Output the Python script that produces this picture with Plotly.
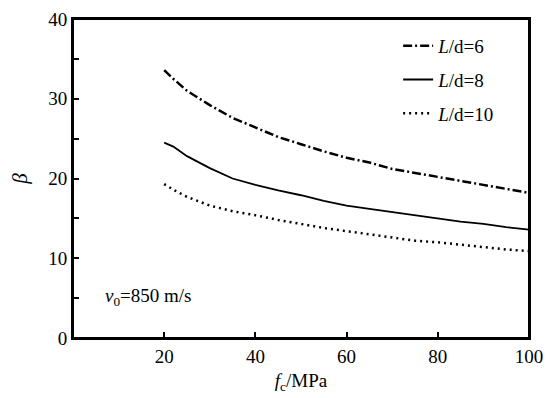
import plotly.graph_objects as go

fc = [20, 22, 25, 30, 35, 40, 45, 50, 55, 60, 65, 70, 75, 80, 85, 90, 95, 100]
beta_6 = [33.6, 32.5, 31.0, 29.2, 27.6, 26.4, 25.2, 24.3, 23.4, 22.6, 22.0, 21.2, 20.7, 20.2, 19.7, 19.2, 18.7, 18.2]
beta_8 = [24.5, 24.0, 22.8, 21.3, 20.0, 19.2, 18.5, 17.9, 17.2, 16.6, 16.2, 15.8, 15.4, 15.0, 14.6, 14.3, 13.9, 13.6]
beta_10 = [19.3, 18.6, 17.7, 16.6, 15.9, 15.4, 14.8, 14.3, 13.8, 13.4, 13.0, 12.6, 12.2, 12.0, 11.7, 11.4, 11.1, 10.9]

labels = ["<i>L</i>/d=6", "<i>L</i>/d=8", "<i>L</i>/d=10"]
x_ticks = [20, 40, 60, 80, 100]
y_ticks = [0, 10, 20, 30, 40]

FONT = "Liberation Serif"

fig = go.Figure()
fig.add_trace(go.Scatter(x=fc, y=beta_6, mode="lines", name=labels[0], legendgroup="a",
                         line=dict(color="black", width=2.5, dash="9px,3px,2px,3px")))
fig.add_trace(go.Scatter(x=fc, y=beta_8, mode="lines", name=labels[1], legendgroup="b",
                         line=dict(color="black", width=1.8)))
fig.add_trace(go.Scatter(x=fc, y=beta_10, mode="lines", name=labels[2], legendgroup="c",
                         line=dict(color="black", width=2.5, dash="2px,4px")))

fig.update_layout(
    width=550, height=390,
    margin=dict(l=65, r=29, t=11, b=60, autoexpand=False),
    plot_bgcolor="white", paper_bgcolor="white",
    font=dict(family=FONT, size=19, color="black"),
    showlegend=True,
    legend=dict(x=0.713, y=0.975, xanchor="left", yanchor="top",
                bgcolor="rgba(0,0,0,0)", font=dict(family=FONT, size=19),
                tracegroupgap=6, traceorder="grouped"),
    xaxis=dict(range=[0, 100], tickvals=x_ticks, ticks="inside", ticklen=6, tickwidth=1.5,
               tickcolor="black", showline=True, linecolor="black", linewidth=2, mirror=True,
               showgrid=False, zeroline=False, automargin=False, ticklabeloverflow="allow",
               tickfont=dict(family=FONT, size=19),
               title=dict(text="<i>f</i><sub>c</sub>/MPa", font=dict(family=FONT, size=19), standoff=8)),
    yaxis=dict(range=[0, 40], tickvals=y_ticks, ticks="inside", ticklen=6, tickwidth=1.5,
               tickcolor="black", showline=True, linecolor="black", linewidth=2, mirror=True,
               showgrid=False, zeroline=False, automargin=False, ticklabeloverflow="allow",
               tickfont=dict(family=FONT, size=19),
               minor=dict(tickvals=[5, 15, 25, 35], ticks="inside", ticklen=6, tickwidth=1.5, tickcolor="black"),
               title=dict(text="<i>β</i>", font=dict(family=FONT, size=21), standoff=18)),
    shapes=[dict(type="rect", xref="paper", yref="paper", x0=0, y0=0, x1=1, y1=1,
                 line=dict(color="black", width=2), fillcolor="rgba(0,0,0,0)", layer="above")],
    annotations=[dict(x=0.065, y=0.13, xref="paper", yref="paper", xanchor="left", yanchor="middle",
                      text="<i>v</i><sub>0</sub>=850 m/s", showarrow=False,
                      font=dict(family=FONT, size=19))],
)

fig.write_html("out.html")
